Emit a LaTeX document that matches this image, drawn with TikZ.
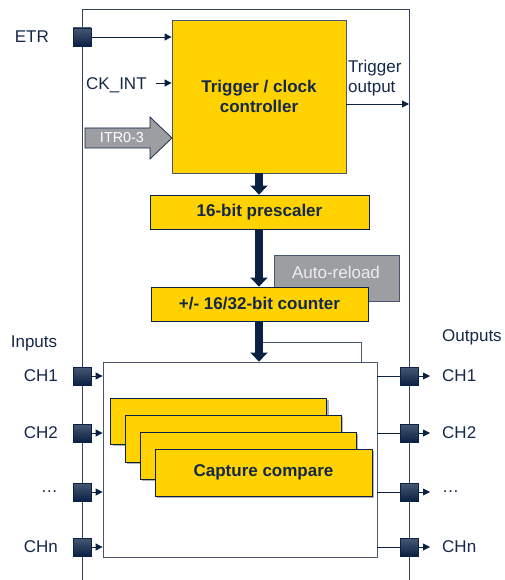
\documentclass[tikz,border=0pt]{standalone}
\usepackage{fontspec}
\setmainfont{Liberation Sans}
\usetikzlibrary{arrows.meta}
\definecolor{navy}{HTML}{0A2144}
\definecolor{txt}{HTML}{14284A}
\definecolor{gold}{HTML}{FFD200}
\definecolor{ggray}{HTML}{9C9EA2}
\definecolor{frame}{HTML}{34425E}
\definecolor{bord}{HTML}{4A5670}
\tikzset{
  every node/.style={text=txt, font=\fontsize{17}{20.5}\selectfont, inner sep=0pt},
  goldbox/.style={draw=navy, line width=0.8pt, fill=gold, font=\bfseries\fontsize{17}{20.5}\selectfont, align=center},
  pin/.style={draw=navy, line width=0.6pt, top color=navy!75!white, bottom color=navy, minimum width=18pt, minimum height=18pt},
  thin arrow/.style={draw=navy, line width=0.9pt, -{Triangle[length=7pt,width=7pt]}},
  thick arrow/.style={draw=navy, line width=8pt, -{Triangle[length=9pt,width=17pt]}},
  shadowbox/.style={draw=navy, line width=0.8pt, fill=gold},
}
\begin{document}
\begin{tikzpicture}[x=1pt,y=-1pt]
\useasboundingbox (0,0) rectangle (505,580);
% outer frame
\draw[frame, line width=0.9pt] (82,585) -- (82,9) -- (409,9) -- (409,585);

% trigger / clock controller
\node[goldbox, draw=bord, minimum width=174pt, minimum height=153pt] (trig) at (259,96.5) {Trigger / clock\\controller};

% ETR
\node[pin] (etr) at (82,37) {};
\node[anchor=east] (etrl) at (49,37) {ETR};
\draw[thin arrow] (etr.east) -- (trig.west |- etr.east);

% CK_INT
\node[anchor=west] (ckint) at (86,85) {CK\_INT};
\coordinate (ckstart) at (156,83);
\draw[thin arrow] (ckstart) -- (trig.west |- ckstart);

% ITR0-3
\draw[draw=navy, line width=0.7pt, fill=ggray] (85,128) -- (150,128) -- (150,117) -- (172,138) -- (150,159) -- (150,148) -- (85,148) -- cycle;
\node[text=white, font=\fontsize{14.4}{16}\selectfont] (itr) at (122,138) {ITR0-3};

% trigger output
\node[anchor=west, align=left] (tout) at (348,78) {Trigger\\output};
\coordinate (toutend) at (409,104);
\draw[thin arrow] (trig.east |- toutend) -- (toutend);

% prescaler
\node[goldbox, minimum width=219pt, minimum height=34pt] (pre) at (259.5,212) {16-bit prescaler};
\draw[thick arrow] (trig.south) -- (trig.south |- pre.north);

% auto-reload
\node[draw=bord, line width=0.8pt, fill=ggray, minimum width=125pt, minimum height=46pt] (ar) at (336.5,278) {};
\node[text=white!93!black] (arl) at (336,272) {Auto-reload};

% counter
\node[goldbox, minimum width=217pt, minimum height=34pt] (cnt) at (259.5,304) {+/- 16/32-bit counter};
\draw[thick arrow] (trig.south |- pre.south) -- (trig.south |- cnt.north);

% capture box
\node[draw=bord, line width=0.8pt, fill=white, minimum width=274pt, minimum height=195pt] (cap) at (240,459.5) {};
\coordinate (fb1) at (260,342);
\coordinate (fb2) at (361,342);
\draw[bord, line width=0.9pt] (fb1) -- (fb2) -- (fb2 |- cap.north);
\draw[thick arrow] (trig.south |- cnt.south) -- (trig.south |- cap.north);

% stacked capture compare
\fill[black!30] (112.5,400) rectangle (328.5,446);
\node[shadowbox, minimum width=216pt, minimum height=46pt] (cc1) at (218.7,421) {};
\fill[black!30] (127,417) rectangle (343,464);
\node[shadowbox, minimum width=216pt, minimum height=47pt] (cc2) at (233,438.5) {};
\fill[black!30] (142,434) rectangle (358,481);
\node[shadowbox, minimum width=216pt, minimum height=47pt] (cc3) at (248,455.5) {};
\fill[black!30] (157,451) rectangle (374,498);
\node[goldbox, minimum width=217pt, minimum height=47pt] (cc4) at (263.5,472.5) {Capture compare};

% inputs
\node (inl) at (34,343) {Inputs};
\foreach \i/\y/\t in {1/376/CH1, 2/433/CH2, 3/492/…, 4/547/CHn}{
  \node[pin] (in\i) at (82,\y) {};
  \node[anchor=east] (inl\i) at (58,\y) {\t};
  \draw[thin arrow] (in\i.east) -- (cap.west |- in\i.east);
}

% outputs
\node[anchor=west] (outl) at (442,337) {Outputs};
\foreach \i/\y/\t in {1/376/CH1, 2/433/CH2, 3/492/…, 4/547/CHn}{
  \node[pin] (out\i) at (409,\y) {};
  \node[anchor=west] (outl\i) at (442,\y) {\t};
  \coordinate (oe\i) at (430,\y);
  \draw[navy, line width=0.9pt] (cap.east |- out\i.west) -- (out\i.west);
  \draw[thin arrow] (out\i.east) -- (oe\i);
}
\end{tikzpicture}
\end{document}
